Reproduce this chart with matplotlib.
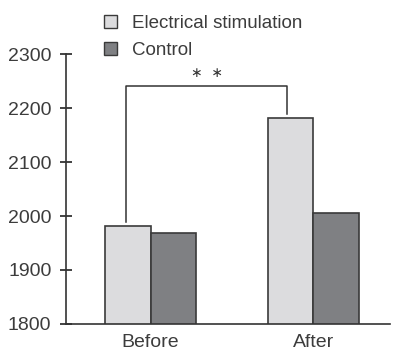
import numpy as np
import matplotlib.pyplot as plt
from matplotlib.patches import Patch

plt.rcParams['font.family'] = ['Liberation Sans', 'DejaVu Sans']

groups = ['Before', 'After']
stim = [1981, 2181]
control = [1969, 2005]
yticks = [1800, 1900, 2000, 2100, 2200, 2300]

fig = plt.figure(figsize=(3.93, 3.56), dpi=100)
ax = fig.add_axes([0.168, 0.09, 0.824, 0.758])

x = np.arange(len(groups))
w = 0.278
ax.bar(x - w / 2, stim, w, color='#dcdcde', edgecolor='#3a3a3a', linewidth=1.2)
ax.bar(x + w / 2, control, w, color='#7f8083', edgecolor='#3a3a3a', linewidth=1.2)

ax.set_ylim(1800, 2300)
ax.set_xlim(-0.52, 1.47)
ax.set_yticks(yticks)
ax.set_xticks(x)
ax.set_xticklabels(groups)
ax.tick_params(axis='x', length=0, labelsize=14, pad=7, labelcolor='#3c3c3c')
ax.tick_params(axis='y', direction='inout', length=9, width=1.2, labelsize=14, pad=6,
               color='#222222', labelcolor='#3c3c3c')
for s in ['top', 'right']:
    ax.spines[s].set_visible(False)
for s in ['left', 'bottom']:
    ax.spines[s].set_color('#333333')
    ax.spines[s].set_linewidth(1.2)

# significance bracket
bx = [x[0] - w / 2 - 0.01, x[0] - w / 2 - 0.01, x[1] - w / 2 - 0.02, x[1] - w / 2 - 0.02]
by = [1988, 2241, 2241, 2189]
ax.plot(bx, by, color='#333333', lw=1.1, clip_on=False)
ax.text((bx[0] + bx[2]) / 2, 2252, '\u2217  \u2217', ha='center', va='bottom',
        fontsize=10, color='#333333', family=['DejaVu Sans'])

handles = [Patch(facecolor='#dcdcde', edgecolor='#3a3a3a', label='Electrical stimulation'),
           Patch(facecolor='#7f8083', edgecolor='#3a3a3a', label='Control')]
fig.legend(handles=handles, loc='upper left', bbox_to_anchor=(0.222, 1.005), frameon=False,
           fontsize=13.5, handlelength=0.68, handleheight=0.68, handletextpad=0.8,
           labelspacing=0.55, labelcolor='#3c3c3c')

fig.savefig('out.png', dpi=100)
